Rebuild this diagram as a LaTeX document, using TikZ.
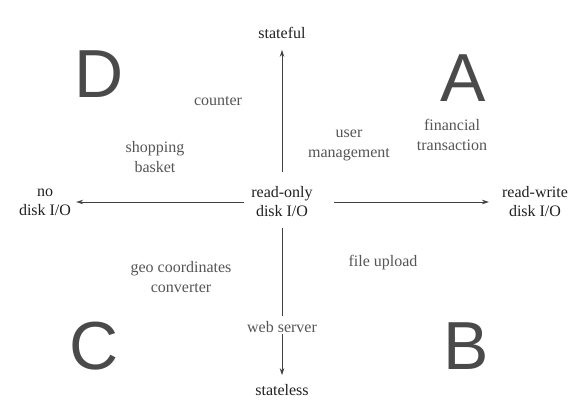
\documentclass[tikz,border=0pt]{standalone}
\usepackage{fontspec}
\setmainfont{Liberation Serif}
\newfontfamily\quadfont{Liberation Sans}
\usetikzlibrary{arrows.meta}
\definecolor{axisgray}{HTML}{202020}
\definecolor{itemgray}{HTML}{555555}
\definecolor{quadgray}{HTML}{4A4A4A}
\tikzset{
	axis/.style = {align=center, inner sep=3pt, text=axisgray, font=\fontsize{16}{19}\selectfont},
	item/.style = {align=center, inner sep=3pt, text=itemgray, font=\fontsize{16}{20}\selectfont},
	quadrant/.style = {inner sep=0pt, text=quadgray, font=\quadfont\fontsize{68}{68}\selectfont},
	axisarrow/.style = {draw=axisgray!85, line width=0.8pt, -{Stealth[length=7pt, width=4.5pt]}}
}

\begin{document}
\begin{tikzpicture}[x=1pt, y=-1pt]
	\useasboundingbox (0, 0) rectangle (585, 409);
	% axes
	\node [axis] (center) at (282, 202) {read-only\\disk I/O};
	\node [axis] (stateful) at (282, 33) {stateful};
	\node [axis] (stateless) at (282, 390) {stateless};
	\node [axis] (noio) at (45, 202) {no\\disk I/O};
	\node [axis] (rwio) at (535, 202) {read-write\\disk I/O};
	\node [item] (web) at (282, 327) {web server};
	\draw [axisarrow, shorten <=12pt, shorten >=8pt] (center) -- (stateful);
	\draw [axisarrow, shorten <=4pt, shorten >=2pt] (center) -- (noio);
	\draw [axisarrow, shorten <=18pt, shorten >=10pt] (center) -- (rwio);
	\draw [axisarrow, -, shorten <=8pt, shorten >=2pt] (center) -- (web);
	\draw [axisarrow, shorten <=-2pt, shorten >=6pt] (web) -- (stateless);
	% quadrants
	\node [quadrant] (qa) at (463, 78) {A};
	\node [quadrant] (qb) at (466, 346) {B};
	\node [quadrant] (qc) at (94, 346) {C};
	\node [quadrant] (qd) at (99, 74) {D};
	% examples
	\node [item] (counter) at (218, 101) {counter};
	\node [item] (basket) at (155, 157) {shopping\\basket};
	\node [item] (user) at (349, 145) {user\\management};
	\node [item] (finance) at (452, 135) {financial\\transaction};
	\node [item] (geo) at (181, 277) {geo coordinates\\converter};
	\node [item] (upload) at (383, 263) {file upload};
\end{tikzpicture}
\end{document}
